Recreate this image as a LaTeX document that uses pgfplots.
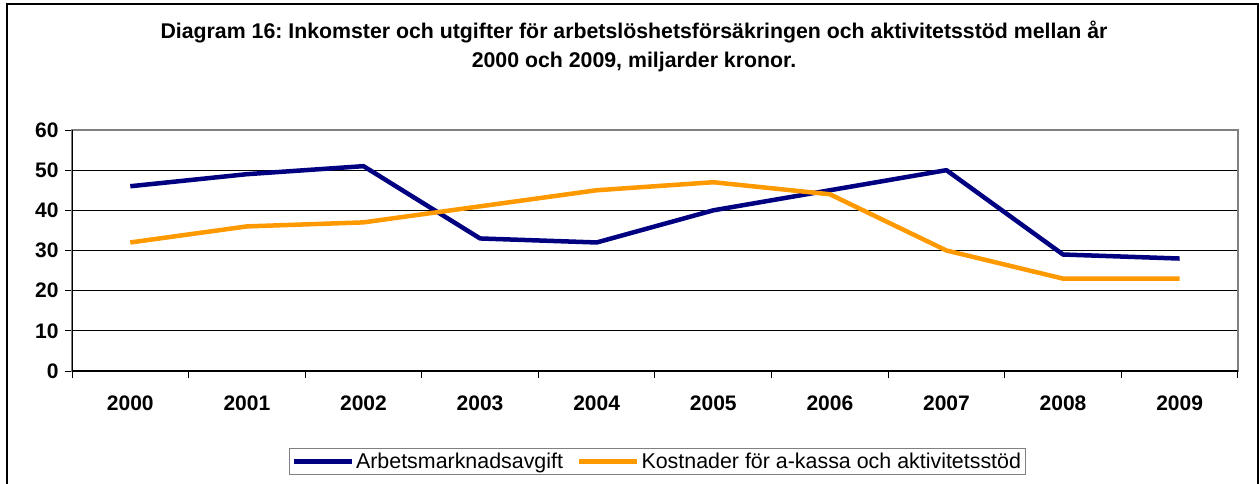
\documentclass[border=0pt]{standalone}
\usepackage{fontspec}
\setmainfont{Liberation Sans}
\usepackage{pgfplots}
\pgfplotsset{compat=1.18}
\definecolor{navy}{HTML}{000080}
\definecolor{xlorange}{HTML}{FF9900}
\definecolor{framegray}{HTML}{808080}
\frenchspacing
\begin{document}
\begin{tikzpicture}[x=1pt,y=1pt]
\useasboundingbox (0,0) rectangle (1259,483);
\draw[black, line width=2pt] (7,-2) -- (7,479) -- (1258,479) -- (1258,-2);
\node[anchor=base, font=\bfseries\fontsize{21.3}{24}\selectfont] at (634,444) {Diagram 16: Inkomster och utgifter för arbetslöshetsförsäkringen och aktivitetsstöd mellan år};
\node[anchor=base, font=\bfseries\fontsize{21.3}{24}\selectfont] at (634,415) {2000 och 2009, miljarder kronor.};
\begin{axis}[
  at={(72pt,112pt)}, anchor=south west,
  width=1166pt, height=241pt, scale only axis,
  xmin=-0.5, xmax=9.5, ymin=0, ymax=60,
  xtick={0,...,9},
  xticklabels={2000,2001,2002,2003,2004,2005,2006,2007,2008,2009},
  minor xtick={-0.5,0.5,...,9.5},
  ytick={0,10,...,60},
  major x tick style={draw=none},
  tick align=outside, tick pos=left,
  major tick length=7pt, minor tick length=7pt,
  every tick/.style={black, line width=1pt},
  ymajorgrids, major grid style={black, line width=1pt},
  axis line style={framegray, line width=2pt},
  /pgf/number format/assume math mode=true,
  ticklabel style={font=\bfseries\fontsize{21}{24}\selectfont},
  xticklabel style={yshift=-14pt},
  yticklabel style={xshift=-3pt},
  legend columns=2,
  legend style={at={(0.502,-0.3755)}, anchor=center, draw=framegray, line width=1pt,
    font=\fontsize{21.4}{24}\selectfont, inner sep=2pt,
    /tikz/every even column/.append style={column sep=12pt}},
  legend cell align=left,
  legend image code/.code={\draw[#1, line width=4.5pt] (0pt,0pt) -- (58pt,0pt);},
]
\addplot[navy, line width=4.5pt, line join=round] coordinates {
(0,46) (1,49) (2,51) (3,33) (4,32) (5,40) (6,45) (7,50) (8,29) (9,28)};
\addlegendentry{Arbetsmarknadsavgift}
\addplot[xlorange, line width=4.5pt, line join=round] coordinates {
(0,32) (1,36) (2,37) (3,41) (4,45) (5,47) (6,44) (7,30) (8,23) (9,23)};
\addlegendentry{Kostnader för a-kassa och aktivitetsstöd}
\draw[black, line width=2pt] (rel axis cs:0,1) -- (rel axis cs:0,0) -- (rel axis cs:1,0);
\end{axis}
\end{tikzpicture}
\end{document}
